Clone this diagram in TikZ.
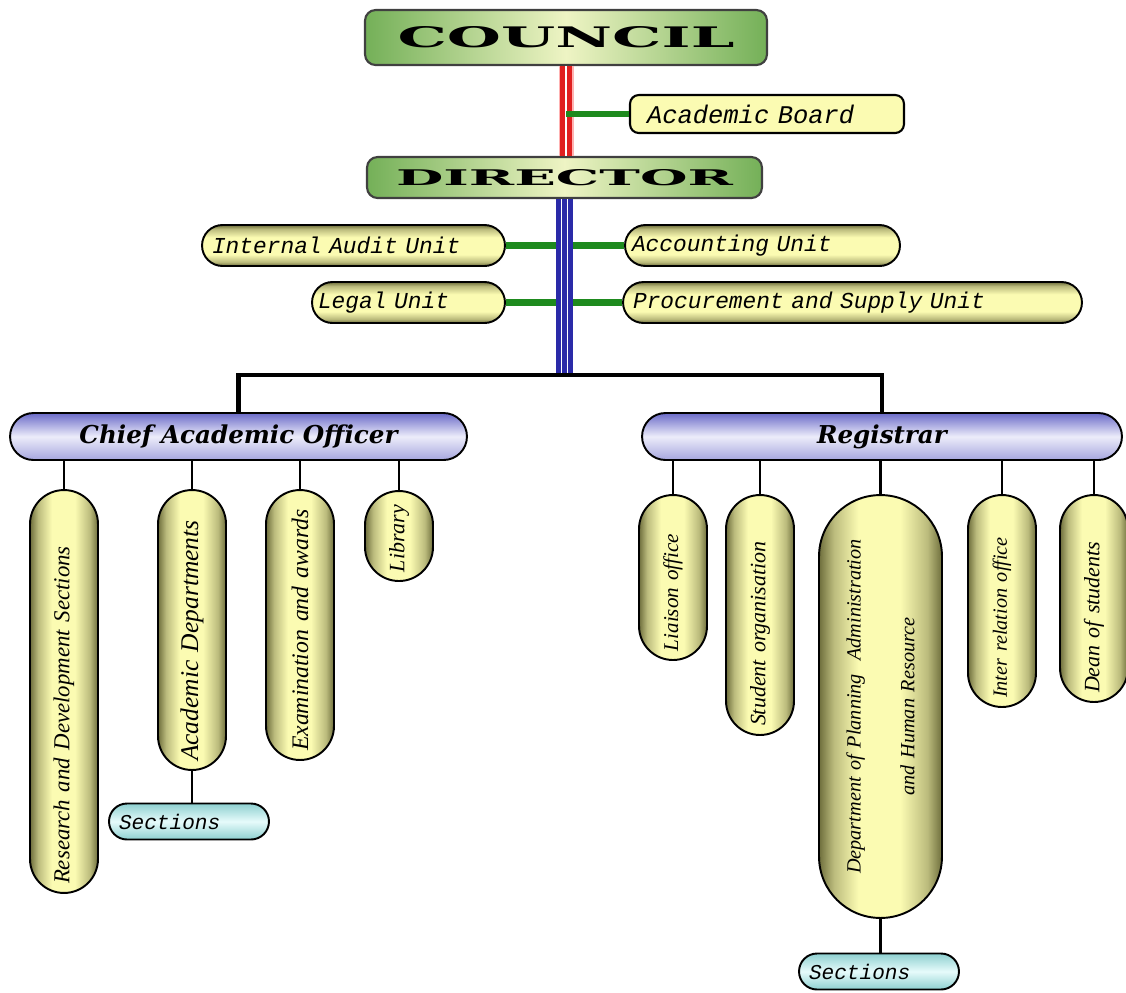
\documentclass[tikz,border=0pt]{standalone}
\usepackage{fontspec}
\usepackage{graphicx}
\usepackage{tikz}
\setmainfont{DejaVu Serif}
\newfontfamily\unitfont{Liberation Mono}
\newfontfamily\deptfont{Liberation Serif}
\definecolor{headgreen}{HTML}{74B058}
\definecolor{headpale}{HTML}{EEF4C4}
\definecolor{pillolive}{HTML}{6E6E3C}
\definecolor{pillyellow}{HTML}{FBFBB2}
\definecolor{offblue}{HTML}{6B6BC8}
\definecolor{offpale}{HTML}{ECECFA}
\definecolor{secblue}{HTML}{8ED0D0}
\definecolor{secpale}{HTML}{E6FBFB}
\definecolor{tiegreen}{HTML}{1E8A1E}
\definecolor{linkred}{HTML}{E02020}
\definecolor{linkblue}{HTML}{2A2AA8}
% light pills with dark rims
\pgfdeclareverticalshading{pillshade}{100bp}{color(0bp)=(pillolive); color(25bp)=(pillolive);
  color(30bp)=(pillyellow!55!pillolive); color(39bp)=(pillyellow); color(60bp)=(pillyellow);
  color(70bp)=(pillyellow!55!pillolive); color(75bp)=(pillolive); color(100bp)=(pillolive)}
\pgfdeclarehorizontalshading{pillshadeh}{100bp}{color(0bp)=(pillolive); color(25bp)=(pillolive);
  color(31bp)=(pillyellow!55!pillolive); color(41bp)=(pillyellow); color(58bp)=(pillyellow);
  color(69bp)=(pillyellow!55!pillolive); color(75bp)=(pillolive); color(100bp)=(pillolive)}

\begin{document}
\begin{tikzpicture}[x=0.02cm,y=-0.02cm,
  head/.style={draw=black!75,line width=1.2pt,rounded corners=6pt,
    left color=headgreen,right color=headgreen,middle color=headpale},
  unit/.style={draw=black,line width=1.1pt,rounded corners=0.41cm,
    shade,shading=pillshade,
    minimum height=0.82cm,align=left,inner xsep=0pt,
    font=\unitfont\itshape\fontsize{13}{15}\selectfont},
  office/.style={draw=black,line width=1.1pt,rounded corners=0.47cm,
    top color=offblue,bottom color=offblue!60,middle color=offpale,
    minimum height=0.94cm,font=\bfseries\itshape\fontsize{14}{16}\selectfont},
  dept/.style={draw=black,line width=1.1pt,rotate=90,rounded corners=0.68cm,
    shade,shading=pillshadeh,
    minimum height=1.36cm,align=left,inner xsep=0pt,
    font=\deptfont\itshape\fontsize{#1}{#1}\selectfont},
  sect/.style={draw=black,line width=1.1pt,rounded corners=0.36cm,
    top color=secblue,bottom color=secblue,middle color=secpale,
    minimum width=3.2cm,minimum height=0.72cm,text width=2.8cm,
    align=left,inner xsep=0pt,font=\unitfont\itshape\fontsize{12}{14}\selectfont},
  redline/.style={draw=linkred,line width=0.11cm,double=white,double distance=0.6pt,
    preaction={draw=red!30,line width=0.3cm}},
  blueline/.style={draw=white,line width=0.6pt,double=linkblue,double distance=0.11cm,
    preaction={draw=linkblue,line width=0.34cm}},
  tie/.style={tiegreen,line width=3.5pt},
  link/.style={line width=1.6pt},
  bus/.style={line width=2.4pt}]
\useasboundingbox (0,0) rectangle (1126,992);

% council and director
\node[head,minimum width=8.04cm,minimum height=1.1cm] (council) at (566,37.5)
  {\resizebox{6.74cm}{0.42cm}{\bfseries COUNCIL}};
\node[head,minimum width=7.9cm,minimum height=0.82cm] (director) at (564.5,177.5)
  {\resizebox{6.74cm}{0.32cm}{\bfseries DIRECTOR}};
\node[draw=black,line width=1.2pt,rounded corners=5pt,fill=pillyellow,
  minimum width=5.48cm,minimum height=0.76cm,text width=4.8cm,align=left,inner xsep=0pt,
  font=\unitfont\itshape\fontsize{14.5}{16}\selectfont] (board) at (767,114) {Academic Board};
\draw[redline] (council.south) -- (council.south |- director.north);
\draw[tie] (board.west -| council.south) -- (board.west);

% units beside the director
\node[unit,minimum width=6.06cm,text width=5.66cm] (audit) at (353.5,245.5) {Internal Audit Unit};
\node[unit,minimum width=5.5cm,text width=5.22cm] (account) at (762.5,245.5) {Accounting Unit};
\node[unit,minimum width=3.86cm,text width=3.62cm] (legal) at (408.5,302.5) {Legal Unit};
\node[unit,minimum width=9.18cm,text width=8.78cm] (procure) at (852.5,302.5) {Procurement and Supply Unit};
\draw[tie] (audit.east) -- (account.west);
\draw[tie] (legal.east) -- (procure.west);

% bus to the two officers
\coordinate (bus) at (566,375);
\draw[blueline] (director.south) -- (director.south |- bus);
\node[office,minimum width=9.14cm] (cao) at (238.5,436.5) {Chief Academic Officer};
\node[office,minimum width=9.6cm] (reg) at (882,436.5) {Registrar};
\draw[bus] (cao.north) -- (cao.north |- bus) -- (reg.north |- bus) -- (reg.north);

% departments and offices
\foreach \n/\x/\y/\l/\s/\p/\t in {
  rd/64/691.5/8.06/13/cao/Research and Development Sections,
  ad/192/630/5.6/14.5/cao/Academic Departments,
  ea/300/625/5.4/13.5/cao/Examination and awards,
  lib/399/536/1.8/12.5/cao/Library,
  lo/673/577.5/3.3/12/reg/Liaison office,
  so/760/615/4.8/12.5/reg/Student organisation,
  iro/1002/601/4.24/11.5/reg/Inter relation office,
  ds/1094/598.5/4.14/12.5/reg/Dean of students}{
  \pgfmathsetmacro\tw{\l-0.36}
  \node[dept=\s,minimum width=\l cm,text width=\tw cm] (\n) at (\x,\y) {\t};
  \draw[link] (\p.south -| \n.east) -- (\n.east);
}
\node[dept=11.5,minimum width=8.46cm,minimum height=2.46cm,rounded corners=1.23cm,
  text width=7.2cm,align=center] (dp) at (880.5,706.5)
  {Department of Planning~~Administration\hspace*{0.7cm}\\[19pt]and Human Resource\hspace*{0.7cm}};
\draw[link] (reg.south -| dp.east) -- (dp.east);

% sections
\node[sect] (secl) at (189,821.5) {Sections};
\node[sect] (secr) at (879,971.5) {Sections};
\draw[link] (ad.west) -- (ad.west |- secl.north);
\draw[link] (dp.west) -- (dp.west |- secr.north);
\end{tikzpicture}
\end{document}
